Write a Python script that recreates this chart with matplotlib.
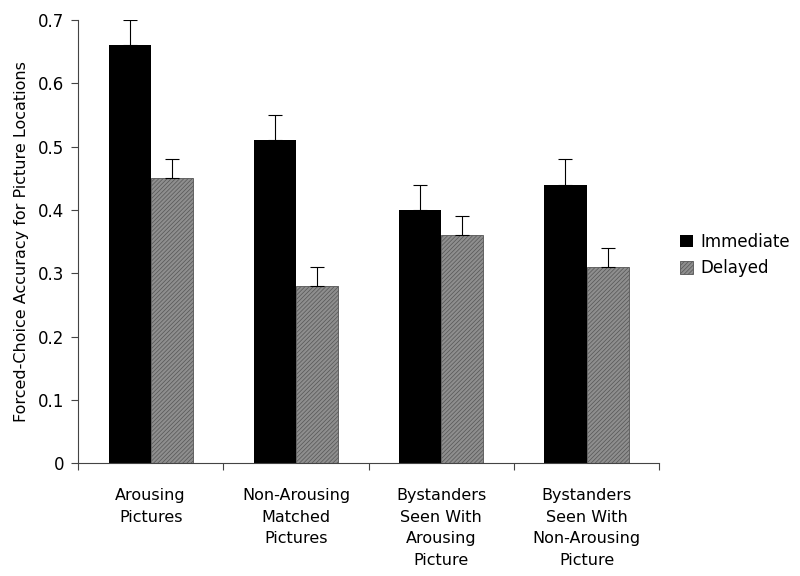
import matplotlib.pyplot as plt
import numpy as np

# Forced-choice accuracy, immediate vs delayed
categorias = ['Arousing\nPictures', 'Non-Arousing\nMatched\nPictures',
              'Bystanders\nSeen With\nArousing\nPicture',
              'Bystanders\nSeen With\nNon-Arousing\nPicture']
imediato = [0.66, 0.51, 0.40, 0.44]
imediato_erro = [0.04, 0.04, 0.04, 0.04]
atrasado = [0.45, 0.28, 0.36, 0.31]
atrasado_erro = [0.03, 0.03, 0.03, 0.03]

plt.rcParams['font.family'] = 'DejaVu Sans'
plt.rcParams['hatch.color'] = '#5a5a5a'
plt.rcParams['hatch.linewidth'] = 0.5

fig = plt.figure(figsize=(8, 5.76), dpi=100)
ax = fig.add_axes([0.0975, 0.196, 0.7265, 0.769])

x = np.arange(len(categorias))
w = 0.29
ax.bar(x - w/2, imediato, w, color='black', label='Immediate',
       yerr=[np.zeros(4), imediato_erro], error_kw=dict(ecolor='black', elinewidth=0.8, capsize=5, capthick=0.8))
ax.bar(x + w/2, atrasado, w, color='#8e8e8e', edgecolor='#555555', linewidth=0.6,
       hatch='////////', label='Delayed',
       yerr=[np.zeros(4), atrasado_erro], error_kw=dict(ecolor='black', elinewidth=0.8, capsize=5, capthick=0.8))

ax.set_xlim(-0.5, 3.5)
ax.set_ylim(0, 0.7)
ax.set_yticks(np.arange(0, 0.71, 0.1))
ax.set_yticklabels(['0', '0.1', '0.2', '0.3', '0.4', '0.5', '0.6', '0.7'], fontsize=12)
ax.set_xticks(np.arange(-0.5, 3.6, 1))
ax.set_xticklabels([])
ax.set_xticks(x, minor=True)
ax.set_xticklabels(categorias, minor=True, fontsize=11.5, linespacing=1.55, va='top')
ax.tick_params(axis='x', which='minor', length=0, pad=18)
ax.tick_params(axis='x', which='major', length=5, color='#444444')
ax.tick_params(axis='y', length=5, color='#444444', pad=5)
ax.spines['top'].set_visible(False)
ax.spines['right'].set_visible(False)
ax.spines['left'].set_color('#444444')
ax.spines['bottom'].set_color('#444444')
ax.set_ylabel('Forced-Choice Accuracy for Picture Locations', fontsize=11.5, labelpad=6)

ax.legend(loc='center left', bbox_to_anchor=(1.01, 0.47), frameon=False,
          fontsize=12, handlelength=0.8, handleheight=0.8, handletextpad=0.4)

fig.savefig('out.png')
